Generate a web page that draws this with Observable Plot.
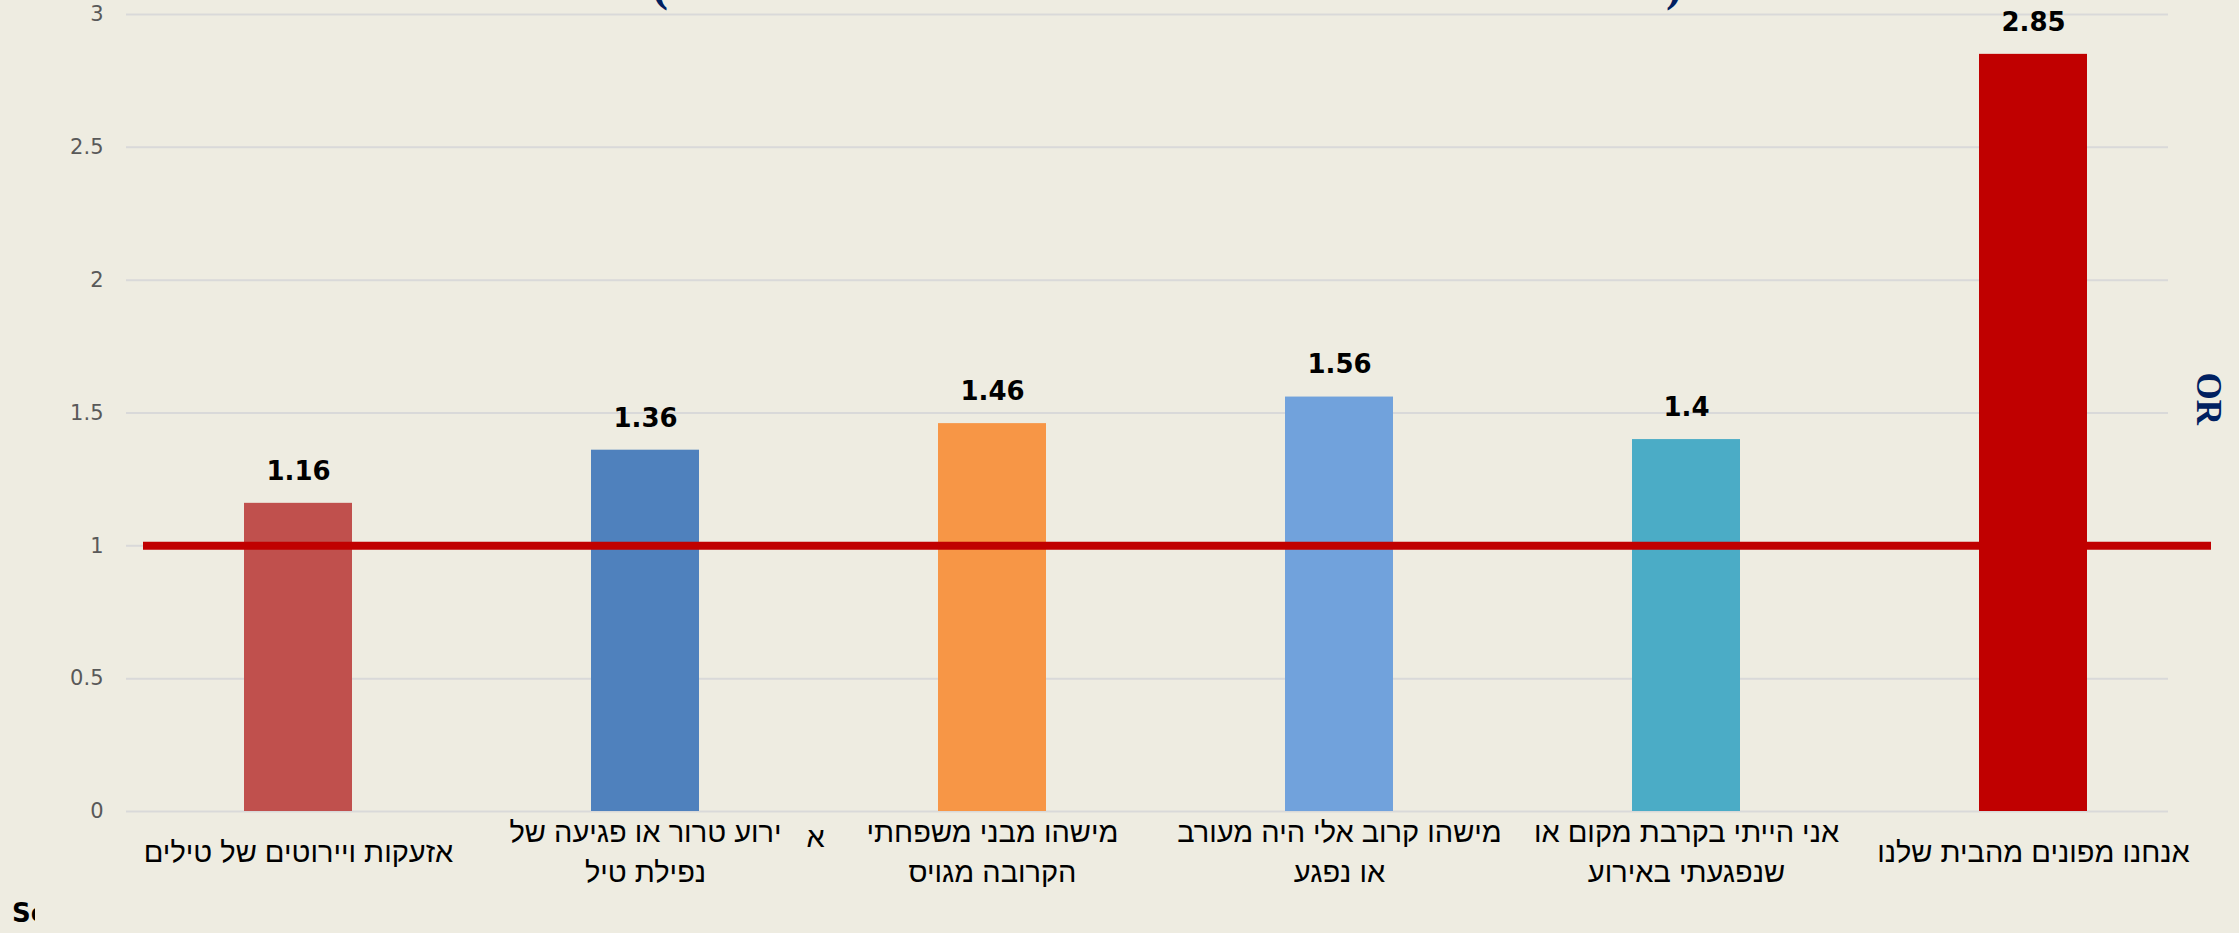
<!DOCTYPE html>
<html>
<head>
<meta charset="utf-8">
<script src="https://cdn.jsdelivr.net/npm/d3@7"></script>
<script src="https://cdn.jsdelivr.net/npm/@observablehq/plot@0.6"></script>
<style>
  html, body { margin: 0; padding: 0; background: #EEECE1; overflow: hidden; }
  #wrap { position: relative; width: 2239px; height: 933px; overflow: hidden; }
  .paren { position: absolute; top: -40px; font: bold 48px "Liberation Serif", serif; color: #002060; line-height: 1; }
  #src { position: absolute; left: 12px; top: 898px; width: 23px; overflow: hidden; white-space: nowrap; font: bold 26px "DejaVu Sans", sans-serif; color: #000; line-height: 1.2; }
</style>
</head>
<body>
<div id="wrap">
  <div class="paren" style="left:652px">(</div>
  <div class="paren" style="left:1666px">)</div>
  <div id="chart"></div>
  <div id="src">Source</div>
</div>
<script>
const categories = [
  "אזעקות ויירוטים של טילים",
  "ירוע טרור או פגיעה של\nנפילת טיל",
  "מישהו מבני משפחתי\nהקרובה מגויס",
  "מישהו קרוב אלי היה מעורב\nאו נפגע",
  "אני הייתי בקרבת מקום או\nשנפגעתי באירוע",
  "אנחנו מפונים מהבית שלנו"
];
const values = [1.16, 1.36, 1.46, 1.56, 1.4, 2.85];
const valueLabels = ["1.16", "1.36", "1.46", "1.56", "1.4", "2.85"];
const barColors = ["#C0504D", "#4F81BD", "#F79646", "#71A2DC", "#4BACC6", "#C00000"];
const yTicks = [0, 0.5, 1, 1.5, 2, 2.5, 3];
const referenceLine = [1];
const strayLetter = ["א"];
const axisTitle = ["OR"];

const data = categories.map((c, i) => ({c, v: values[i], color: barColors[i], label: valueLabels[i]}));

const chart = Plot.plot({
  width: 2239,
  height: 933,
  marginTop: 14,
  marginBottom: 122,
  marginLeft: 123,
  marginRight: 32,
  style: {background: "transparent", fontFamily: "'Liberation Sans', Arial, sans-serif", overflow: "visible"},
  x: {domain: categories, paddingInner: 0.69, paddingOuter: 0.345, axis: null},
  y: {domain: [0, 3], axis: null},
  color: {type: "identity"},
  marks: [
    Plot.ruleY(yTicks, {stroke: "#D9D9D9", strokeWidth: 2, insetLeft: 3, insetRight: 39}),
    Plot.axisY({ticks: yTicks, tickSize: 0, tickPadding: 20, fontSize: 21, fill: "#595959", fontFamily: "'DejaVu Sans', sans-serif", tickFormat: d => String(d), label: null}),
    Plot.barY(data, {x: "c", y: "v", fill: "color"}),
    Plot.ruleY(referenceLine, {stroke: "#C00000", strokeWidth: 8, insetLeft: 20, insetRight: -4}),
    Plot.text(data, {x: "c", y: "v", text: "label", dy: -32, fontWeight: "bold", fontSize: 26, fill: "#000", fontFamily: "'DejaVu Sans', sans-serif"}),
    Plot.text(data, {x: "c", text: "c", frameAnchor: "bottom", dy: 38, lineAnchor: "middle", lineHeight: 1.35, fontSize: 29, fill: "#000"}),
    Plot.text(strayLetter, {x: () => categories[1], text: d => d, frameAnchor: "bottom", dy: 35, dx: 170, fontSize: 29, fill: "#000"}),
    Plot.text(axisTitle, {frameAnchor: "right", text: d => d, dx: 1, dy: 12, rotate: 90, fontSize: 35, fontWeight: "bold", fill: "#002060", fontFamily: "'Liberation Serif', serif"})
  ]
});
document.getElementById("chart").appendChild(chart);
</script>
</body>
</html>
